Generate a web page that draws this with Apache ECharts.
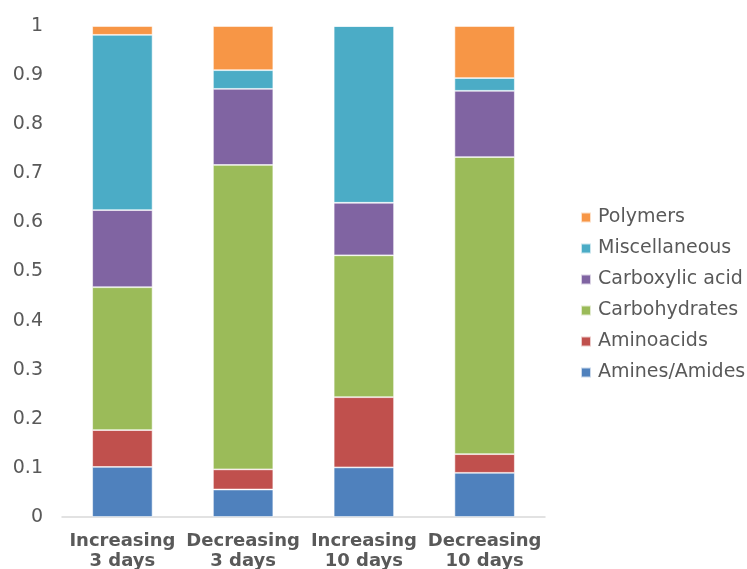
<!DOCTYPE html>
<html>
<head>
<meta charset="utf-8">
<script src="https://cdn.jsdelivr.net/npm/echarts@6/dist/echarts.min.js"></script>
<style>
  html, body { margin: 0; padding: 0; background: #fff; }
  #chart { width: 747px; height: 569px; }
</style>
</head>
<body>
<div id="chart"></div>
<script>
// Sample groups
const categories = ['Increasing\n3 days', 'Decreasing\n3 days', 'Increasing\n10 days', 'Decreasing\n10 days'];

// Relative abundance of each compound class (fractions, stacking to 1)
const aminesAmides   = [0.102, 0.056, 0.101, 0.090];
const aminoacids     = [0.075, 0.041, 0.143, 0.038];
const carbohydrates  = [0.291, 0.620, 0.289, 0.605];
const carboxylicAcid = [0.157, 0.155, 0.107, 0.135];
const miscellaneous  = [0.357, 0.038, 0.360, 0.026];
const polymers       = [0.018, 0.090, 0.000, 0.106];

const yTicks = [0, 0.1, 0.2, 0.3, 0.4, 0.5, 0.6, 0.7, 0.8, 0.9, 1];

const textColor = '#595959';
const fontFamily = '"DejaVu Sans", "Liberation Sans", sans-serif';

function stackSeries(name, data, color) {
  return {
    name: name,
    type: 'bar',
    stack: 'total',
    barWidth: '50%',
    data: data,
    itemStyle: { color: color, borderColor: 'rgba(255,255,255,0.7)', borderWidth: 0.8 }
  };
}

const chart = echarts.init(document.getElementById('chart'), null, { renderer: 'canvas' });
chart.setOption({
  animation: false,
  textStyle: { fontFamily: fontFamily },
  grid: { left: 62, right: 202, top: 26, bottom: 52, containLabel: false, outerBoundsMode: 'none' },
  legend: {
    orient: 'vertical',
    left: 575,
    top: 203,
    itemWidth: 10,
    itemHeight: 10,
    itemGap: 12,
    icon: 'rect',
    textStyle: { color: textColor, fontSize: 19, fontFamily: fontFamily, padding: [0, 0, 0, 2] },
    data: ['Polymers', 'Miscellaneous', 'Carboxylic acid', 'Carbohydrates', 'Aminoacids', 'Amines/Amides']
  },
  xAxis: {
    type: 'category',
    data: categories,
    axisLine: { lineStyle: { color: '#d9d9d9', width: 1.5 } },
    axisTick: { show: false },
    axisLabel: {
      color: textColor,
      fontSize: 18,
      fontWeight: 'bold',
      fontFamily: fontFamily,
      lineHeight: 20,
      margin: 14,
      interval: 0
    }
  },
  yAxis: {
    type: 'value',
    min: 0,
    max: 1,
    interval: 0.1,
    axisLine: { show: false },
    axisTick: { show: false },
    splitLine: { show: false },
    axisLabel: {
      color: textColor,
      fontSize: 19,
      fontFamily: fontFamily,
      margin: 19,
      formatter: function (v) {
        const t = yTicks.find(function (k) { return Math.abs(k - v) < 1e-9; });
        return t === undefined ? '' : String(t);
      }
    }
  },
  series: [
    stackSeries('Amines/Amides', aminesAmides, '#4f81bd'),
    stackSeries('Aminoacids', aminoacids, '#c0504d'),
    stackSeries('Carbohydrates', carbohydrates, '#9bbb59'),
    stackSeries('Carboxylic acid', carboxylicAcid, '#8064a2'),
    stackSeries('Miscellaneous', miscellaneous, '#4bacc6'),
    stackSeries('Polymers', polymers, '#f79646')
  ]
});
</script>
</body>
</html>
